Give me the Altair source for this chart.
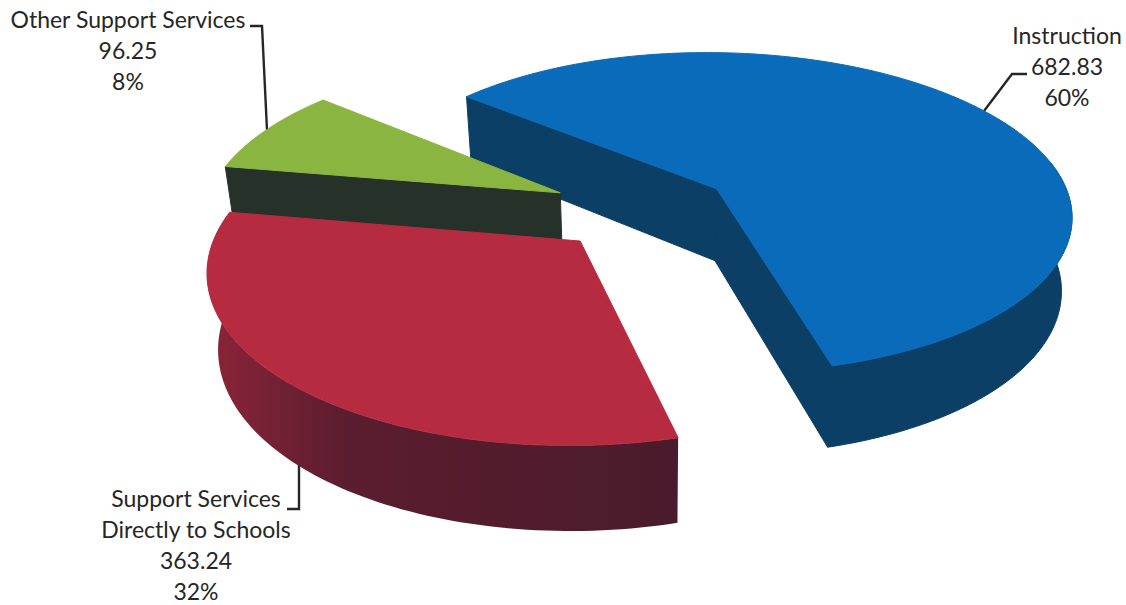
import numpy as np
import pandas as pd
import altair as alt

# Spending by category
names = ["Instruction", "Support Services Directly to Schools", "Other Support Services"]
values = [682.83, 363.24, 96.25]
percents = ["60%", "32%", "8%"]
top_colors = ["#0a6bba", "#b72b40", "#8ab540"]
wall_colors = ["#0b3f66", "#4a1b2c", "#26312a"]

# Label text, one row per line
label_lines = [
    ["Instruction", "682.83", "60%"],
    ["Support Services", "Directly to Schools", "363.24", "32%"],
    ["Other Support Services", "96.25", "8%"],
]
label_x = [1067, 196, 128]
label_y = [37, 500, 21]
line_step = 31

# Leader lines as x, y runs from label to slice
leaders = [
    [(1027, 74), (1012, 74), (984, 111)],
    [(287, 509), (299, 509), (299, 465)],
    [(250, 26), (262, 26), (267, 130)],
]

# Camera and pie geometry
X0, Y0 = 642.1, 210.3
PERSPECTIVE = 0.000426
TILT = 0.457
RADIUS = 356.7
START_ANGLE = 310.2
EXPLODE = [89.9, 88.9, 91.8]
DEPTH = 73
VANISH_X, LEAN = 650, 0.025

total = sum(values)
sweeps = [v / total * 360 for v in values]
starts = [START_ANGLE + sum(sweeps[:i]) for i in range(3)]


def top_face(i, theta, r):
    """Screen position on a slice's top face for pie angle theta and radius r."""
    mid = np.radians(starts[i] + sweeps[i] / 2)
    t = np.radians(theta)
    u = EXPLODE[i] * np.sin(mid) + r * RADIUS * np.sin(t)
    v = EXPLODE[i] * np.cos(mid) + r * RADIUS * np.cos(t)
    p = 1 / (1 + PERSPECTIVE * v)
    return X0 + u * p, Y0 - TILT * v * p, p


def lower(x, y, p):
    """Same point dropped to the underside of the pie."""
    return VANISH_X + (x - VANISH_X) * (1 - LEAN), y + DEPTH * p ** 0.8


def arc(i, a, b, n=90):
    return top_face(i, np.linspace(a, b, n), 1.0)


def polygon(xs, ys, fill):
    frame = pd.DataFrame({"x": xs, "y": ys, "k": np.arange(len(xs))})
    return (
        alt.Chart(frame)
        .mark_line(interpolate="linear-closed", fill=fill, stroke=fill if isinstance(fill, str) else None, strokeWidth=1)
        .encode(
            x=alt.X("x:Q", scale=x_scale, axis=None),
            y=alt.Y("y:Q", scale=y_scale, axis=None),
            order="k:Q",
        )
    )


def rim_wall(i, a, b, fill):
    x, y, p = arc(i, a, b)
    bx, by = lower(x, y, p)
    return polygon(np.r_[x, bx[::-1]], np.r_[y, by[::-1]], fill)


def edge_wall(i, theta, fill):
    ax, ay, ap = top_face(i, theta, 0.0)
    ex, ey, ep = top_face(i, theta, 1.0)
    bax, bay = lower(ax, ay, ap)
    bex, bey = lower(ex, ey, ep)
    return polygon([ax, ex, bex, bax], [ay, ey, bey, bay], fill)


def top(i):
    x, y, _ = arc(i, starts[i], starts[i] + sweeps[i], 160)
    ax, ay, _ = top_face(i, starts[i], 0.0)
    return polygon(np.r_[ax, x], np.r_[ay, y], top_colors[i])


x_scale = alt.Scale(domain=[0, 1126], nice=False, zero=False)
y_scale = alt.Scale(domain=[0, 605], nice=False, zero=False, reverse=True)

red_wall = alt.Gradient(
    gradient="linear", x1=0, x2=1, y1=0, y2=0,
    stops=[
        alt.GradientStop(offset=0, color="#8c2438"),
        alt.GradientStop(offset=0.3, color="#5a1d2f"),
        alt.GradientStop(offset=1, color=wall_colors[1]),
    ],
)

layers = []

# Leaders sit behind the slices
for run in leaders:
    frame = pd.DataFrame(run, columns=["x", "y"]).assign(k=range(len(run)))
    layers.append(
        alt.Chart(frame).mark_line(color="#262626", strokeWidth=2.4).encode(
            x=alt.X("x:Q", scale=x_scale, axis=None),
            y=alt.Y("y:Q", scale=y_scale, axis=None),
            order="k:Q",
        )
    )

# Back to front: blue, green, red
layers += [
    edge_wall(0, starts[0], wall_colors[0]),
    edge_wall(0, starts[0] + sweeps[0], wall_colors[0]),
    rim_wall(0, 80, starts[0] + sweeps[0] - 360, wall_colors[0]),
    top(0),
    edge_wall(2, starts[2], wall_colors[2]),
    top(2),
    rim_wall(1, starts[1], starts[1] + sweeps[1], red_wall),
    top(1),
]

rows = []
for lines, cx, cy in zip(label_lines, label_x, label_y):
    for n, line in enumerate(lines):
        rows.append({"x": cx, "y": cy + n * line_step, "t": line})

layers.append(
    alt.Chart(pd.DataFrame(rows))
    .mark_text(font="Lato", fontSize=23, color="#262626", align="center", baseline="middle")
    .encode(
        x=alt.X("x:Q", scale=x_scale, axis=None),
        y=alt.Y("y:Q", scale=y_scale, axis=None),
        text="t:N",
    )
)

chart = (
    alt.layer(*layers)
    .properties(width=1126, height=605, padding=0, autosize=alt.AutoSizeParams(type="none"), background="white")
    .configure_view(stroke=None)
)

chart.save("out.html", embed_options={"renderer": "svg", "actions": False})
